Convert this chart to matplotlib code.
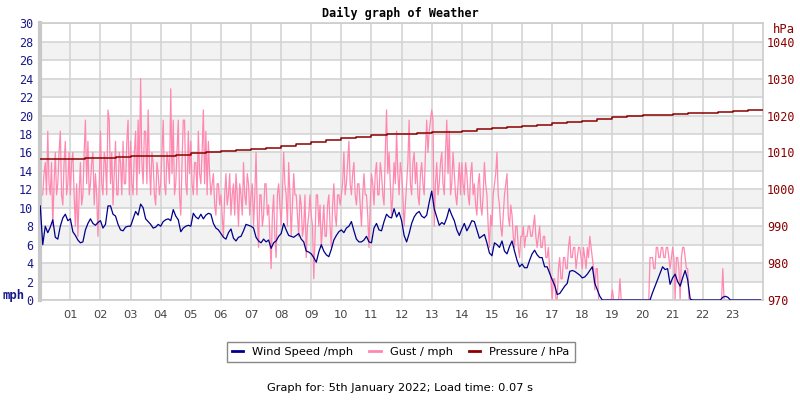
import matplotlib
matplotlib.use("Agg")
import matplotlib.pyplot as plt
import numpy as np
from matplotlib.lines import Line2D

# wind: 5-minute samples, 12 per hour, 00:00 .. 23:55
wind_mph = [
    10.2, 6.0, 8.0, 7.3, 7.9, 8.7, 6.8, 6.6, 8.0, 8.9, 9.3, 8.6,
    8.8, 7.4, 7.0, 6.5, 6.2, 6.3, 7.6, 8.3, 8.8, 8.3, 8.1, 8.4,
    8.6, 7.8, 8.2, 10.2, 10.2, 9.3, 9.1, 8.2, 7.6, 7.5, 7.9, 8.0,
    8.0, 8.8, 9.6, 9.2, 10.4, 10.0, 8.8, 8.5, 8.2, 7.8, 7.9, 8.2,
    8.0, 8.5, 8.7, 8.8, 8.6, 9.8, 9.1, 8.7, 7.4, 7.8, 8.0, 8.1,
    8.0, 9.4, 9.0, 8.8, 9.3, 8.8, 9.2, 9.4, 9.3, 8.3, 7.8, 7.6,
    7.2, 6.8, 6.6, 7.3, 7.7, 6.7, 6.4, 6.8, 6.9, 7.5, 8.2, 8.1,
    8.0, 7.8, 6.8, 6.4, 6.2, 6.6, 6.3, 6.5, 5.6, 6.2, 6.4, 6.9,
    7.2, 8.3, 7.6, 7.0, 6.9, 6.8, 7.0, 7.2, 6.6, 6.3, 5.3, 5.2,
    5.0, 4.6, 4.1, 5.2, 6.0, 5.3, 4.9, 4.7, 5.5, 6.5, 7.0, 7.4,
    7.6, 7.3, 7.8, 8.0, 8.5, 7.5, 6.6, 6.3, 6.3, 6.5, 6.9, 6.3,
    6.2, 7.8, 8.3, 7.6, 7.5, 8.5, 9.3, 9.0, 8.9, 9.9, 9.0, 9.5,
    8.6, 7.0, 6.3, 7.2, 8.3, 9.0, 9.4, 9.6, 9.1, 8.9, 9.2, 10.6,
    11.8, 9.9, 9.0, 8.1, 8.4, 8.2, 8.9, 9.9, 9.2, 8.6, 7.6, 7.0,
    7.7, 8.3, 7.5, 8.0, 8.6, 8.5, 7.6, 6.7, 6.9, 7.1, 6.2, 5.1,
    4.8, 6.2, 6.0, 5.7, 6.4, 5.3, 5.0, 5.8, 6.4, 5.3, 4.3, 3.6,
    3.9, 3.5, 3.5, 4.3, 5.0, 5.4, 4.9, 4.6, 4.6, 3.6, 3.6, 2.9,
    2.2, 1.6, 0.6, 0.7, 1.1, 1.5, 1.8, 3.1, 3.2, 3.1, 2.9, 2.7,
    2.4, 2.5, 2.8, 3.2, 3.6, 1.8, 1.1, 0.4, 0.0, 0.0, 0.0, 0.0,
    0.0, 0.0, 0.0, 0.0, 0.0, 0.0, 0.0, 0.0, 0.0, 0.0, 0.0, 0.0,
    0.0, 0.0, 0.0, 0.0, 0.8, 1.5, 2.2, 2.9, 3.6, 3.3, 3.4, 1.7,
    2.4, 2.8, 2.0, 1.5, 2.4, 3.2, 2.2, 0.1, 0.0, 0.0, 0.0, 0.0,
    0.0, 0.0, 0.0, 0.0, 0.0, 0.0, 0.0, 0.0, 0.3, 0.4, 0.3, 0.0,
    0.0, 0.0, 0.0, 0.0, 0.0, 0.0, 0.0, 0.0, 0.0, 0.0, 0.0, 0.0,
]

# gust: 2.5-minute samples, 24 per hour
gust_mph = [
    12.6, 11.4, 11.4, 13.7, 14.9, 11.4, 18.3, 12.6, 11.4, 14.9, 8.0, 12.6,
    16.0, 11.4, 12.6, 16.0, 18.3, 11.4, 10.3, 14.9, 17.2, 11.4, 12.6, 16.0,
    11.4, 14.9, 16.0, 11.4, 8.0, 12.6, 6.9, 11.4, 14.9, 10.3, 11.4, 16.0,
    19.5, 12.6, 17.2, 11.4, 12.6, 14.9, 16.0, 10.3, 13.7, 11.4, 6.9, 12.6,
    18.3, 12.6, 11.4, 16.0, 14.9, 11.4, 20.6, 19.5, 12.6, 16.0, 10.3, 13.7,
    17.2, 11.4, 11.4, 16.0, 14.9, 11.4, 17.2, 12.6, 12.6, 17.2, 19.5, 11.4,
    17.2, 12.6, 11.4, 16.0, 18.3, 11.4, 19.5, 13.7, 24.0, 14.9, 12.6, 18.3,
    18.3, 12.6, 20.6, 14.9, 11.4, 16.0, 14.9, 11.4, 10.3, 14.9, 13.7, 11.4,
    12.6, 16.0, 19.5, 12.6, 11.4, 16.0, 14.9, 12.6, 22.9, 13.7, 19.5, 11.4,
    12.6, 16.0, 19.5, 11.4, 9.2, 14.9, 19.5, 19.5, 12.6, 11.4, 18.3, 13.7,
    17.2, 12.6, 11.4, 14.9, 14.9, 11.4, 18.3, 13.7, 12.6, 16.0, 20.6, 12.6,
    18.3, 11.4, 17.2, 13.7, 11.4, 12.6, 13.7, 10.3, 9.2, 12.6, 12.6, 10.3,
    11.4, 9.2, 6.9, 11.4, 13.7, 10.3, 11.4, 13.7, 9.2, 11.4, 12.6, 9.2,
    13.7, 11.4, 8.0, 12.6, 11.4, 9.2, 14.9, 11.4, 10.3, 13.7, 12.6, 9.2,
    11.4, 12.6, 8.0, 11.4, 16.0, 9.2, 5.7, 11.4, 11.4, 8.0, 9.2, 12.6,
    12.6, 9.2, 10.3, 6.9, 3.4, 9.2, 11.4, 6.9, 4.6, 11.4, 12.6, 10.3,
    8.0, 11.4, 16.0, 12.6, 11.4, 8.0, 14.9, 11.4, 6.9, 10.3, 13.7, 11.4,
    11.4, 9.2, 6.9, 11.4, 10.3, 6.9, 8.0, 11.4, 4.6, 8.0, 9.2, 11.4,
    9.2, 8.0, 2.3, 6.9, 11.4, 11.4, 8.0, 10.3, 5.7, 8.0, 10.3, 6.9,
    6.9, 10.3, 11.4, 8.0, 5.7, 10.3, 12.6, 9.2, 8.0, 11.4, 11.4, 10.3,
    11.4, 12.6, 16.0, 11.4, 12.6, 14.9, 17.2, 12.6, 11.4, 13.7, 14.9, 11.4,
    10.3, 12.6, 12.6, 10.3, 8.0, 11.4, 13.7, 11.4, 11.4, 9.2, 5.7, 10.3,
    13.7, 12.6, 10.3, 13.7, 14.9, 11.4, 11.4, 14.9, 13.7, 11.4, 10.3, 16.0,
    20.6, 13.7, 16.0, 12.6, 9.2, 11.4, 14.9, 12.6, 18.3, 13.7, 11.4, 14.9,
    13.7, 11.4, 8.0, 10.3, 12.6, 14.9, 19.5, 12.6, 11.4, 14.9, 16.0, 12.6,
    14.9, 11.4, 10.3, 13.7, 14.9, 12.6, 11.4, 16.0, 19.5, 16.0, 18.3, 19.5,
    20.6, 19.5, 8.0, 12.6, 14.9, 11.4, 12.6, 14.9, 16.0, 12.6, 11.4, 16.0,
    19.5, 13.7, 18.3, 11.4, 12.6, 16.0, 13.7, 11.4, 10.3, 12.6, 14.9, 11.4,
    14.9, 12.6, 11.4, 14.9, 13.7, 11.4, 10.3, 13.7, 14.9, 11.4, 12.6, 10.3,
    9.2, 12.6, 13.7, 10.3, 9.2, 11.4, 14.9, 12.6, 11.4, 8.0, 5.7, 9.2,
    8.0, 11.4, 12.6, 13.7, 16.0, 11.4, 10.3, 8.0, 6.9, 9.2, 11.4, 12.6,
    13.7, 9.2, 8.0, 10.3, 9.2, 6.9, 5.7, 8.0, 8.0, 5.7, 4.6, 6.9,
    6.9, 8.0, 5.7, 6.9, 6.9, 8.0, 8.0, 6.9, 6.9, 8.0, 9.2, 6.9,
    5.7, 6.9, 8.0, 5.7, 5.7, 6.9, 6.9, 4.6, 4.6, 5.7, 3.4, 2.3,
    0.0, 2.3, 2.3, 0.0, 0.0, 3.4, 4.6, 2.3, 2.3, 4.6, 4.6, 3.4,
    3.4, 5.7, 6.9, 4.6, 4.6, 5.7, 5.7, 3.4, 4.6, 5.7, 5.7, 4.6,
    3.4, 5.7, 4.6, 3.4, 5.7, 4.6, 6.9, 5.7, 4.6, 3.4, 1.1, 3.4,
    3.4, 0.0, 0.0, 0.0, 0.0, 0.0, 0.0, 0.0, 0.0, 0.0, 0.0, 0.0,
    1.1, 0.0, 0.0, 0.0, 0.0, 0.0, 2.3, 0.0, 0.0, 0.0, 0.0, 0.0,
    0.0, 0.0, 0.0, 0.0, 0.0, 0.0, 0.0, 0.0, 0.0, 0.0, 0.0, 0.0,
    0.0, 0.0, 0.0, 0.0, 0.0, 0.0, 4.6, 4.6, 4.6, 3.4, 3.4, 5.7,
    5.7, 4.6, 4.6, 5.7, 5.7, 4.6, 4.6, 5.7, 5.7, 4.6, 3.4, 4.6,
    5.7, 4.6, 0.0, 4.6, 4.6, 3.4, 0.0, 4.6, 5.7, 5.7, 4.6, 3.4,
    3.4, 0.0, 0.0, 0.0, 0.0, 0.0, 0.0, 0.0, 0.0, 0.0, 0.0, 0.0,
    0.0, 0.0, 0.0, 0.0, 0.0, 0.0, 0.0, 0.0, 0.0, 0.0, 0.0, 0.0,
    0.0, 0.0, 0.0, 0.0, 3.4, 0.0, 0.0, 0.0, 0.0, 0.0, 0.0, 0.0,
    0.0, 0.0, 0.0, 0.0, 0.0, 0.0, 0.0, 0.0, 0.0, 0.0, 0.0, 0.0,
    0.0, 0.0, 0.0, 0.0, 0.0, 0.0, 0.0, 0.0, 0.0, 0.0, 0.0, 0.0,
]

# pressure: half-hourly, 00:00 .. 24:00
pressure_hpa = [
    1008.3, 1008.1, 1008.3, 1008.4, 1008.6, 1008.7, 1008.9, 1008.9,
    1009.0, 1009.4, 1009.8, 1010.0, 1010.3, 1010.7, 1011.0, 1011.2,
    1011.7, 1012.2, 1012.8, 1013.3, 1013.8, 1014.2, 1014.8, 1014.9,
    1015.1, 1015.2, 1015.4, 1015.5, 1015.8, 1016.3, 1016.6, 1016.8,
    1017.1, 1017.5, 1017.9, 1018.2, 1018.6, 1019.0, 1019.5, 1019.8,
    1020.1, 1020.2, 1020.5, 1020.6, 1020.8, 1020.9, 1021.2, 1021.4,
    1021.4,
]

hour_labels = ["%02d" % h for h in range(1, 24)]
mph_ticks = list(range(0, 31, 2))
hpa_ticks = list(range(970, 1041, 10))

t_wind = np.arange(len(wind_mph)) * 5 / 60.0
t_gust = np.arange(len(gust_mph)) * 2.5 / 60.0
t_pres = np.arange(len(pressure_hpa)) * 0.5

NAVY = "#00008b"
PINK = "#ff88b0"
DRED = "#8b0000"
MONO = "DejaVu Sans Mono"

fig = plt.figure(figsize=(8, 4), dpi=100)
ax = fig.add_axes([0.0503, 0.25, 0.9034, 0.6918])
ax.set_xlim(0, 24)
ax.set_ylim(0, 30)

# alternating grey bands
for lo in range(2, 30, 4):
    ax.axhspan(lo, lo + 2, color="#f2f2f2", lw=0, zorder=0.1)

ax.set_xticks(range(1, 24))
ax.set_xticklabels(hour_labels)
ax.set_yticks(mph_ticks)
ax.grid(True, color="#d4d4d4", lw=1.2, zorder=0.3)
ax.set_axisbelow(True)

ax.plot(t_gust, gust_mph, color=PINK, lw=0.9, zorder=2)
ax.plot(t_wind, wind_mph, color=NAVY, lw=0.9, zorder=3)

for side in ["top", "bottom", "right"]:
    ax.spines[side].set_color("#cccccc")
    ax.spines[side].set_linewidth(1.2)
ax.spines["left"].set_color("#c8c8c8")
ax.spines["left"].set_linewidth(3)

ax.tick_params(axis="y", length=0, labelcolor="#1a1a8c", labelsize=8.5, pad=5)
ax.tick_params(axis="x", length=0, labelcolor="#444444", labelsize=8.2, pad=7)
for lab in ax.get_yticklabels():
    lab.set_family(MONO)

# pressure on the right axis
pax = ax.twinx()
pax.set_ylim(970, 1045)
pax.set_yticks(hpa_ticks)
pax.plot(t_pres, pressure_hpa, color=DRED, lw=1.1, drawstyle="steps-post")
pax.tick_params(axis="y", length=0, labelcolor=DRED, labelsize=8.5, pad=3)
for lab in pax.get_yticklabels():
    lab.set_family(MONO)
for s in pax.spines.values():
    s.set_visible(False)

fig.text(0.5, 0.967, "Daily graph of Weather", ha="center", va="center",
         family=MONO, weight="bold", fontsize=8.5)
fig.text(0.003, 0.26, "mph", ha="left", va="center", color="#1a1a8c",
         family=MONO, weight="bold", fontsize=8.8)
fig.text(0.966, 0.927, "hPa", ha="left", va="center", color=DRED,
         family=MONO, fontsize=8.8)

handles = [Line2D([], [], color=NAVY, lw=2),
           Line2D([], [], color=PINK, lw=2),
           Line2D([], [], color=DRED, lw=2)]
leg = fig.legend(handles, ["Wind Speed /mph", "Gust / mph", "Pressure / hPa"],
                 loc="center", bbox_to_anchor=(0.501, 0.12), ncol=3,
                 fontsize=8.2, handlelength=1.0, columnspacing=1.4,
                 fancybox=False, edgecolor="#888888", framealpha=1,
                 borderpad=0.45)
leg.get_frame().set_linewidth(1.0)

fig.text(0.5, 0.03, "Graph for: 5th January 2022; Load time: 0.07 s",
         ha="center", va="center", fontsize=8.2)

fig.savefig("out.png", dpi=100)
